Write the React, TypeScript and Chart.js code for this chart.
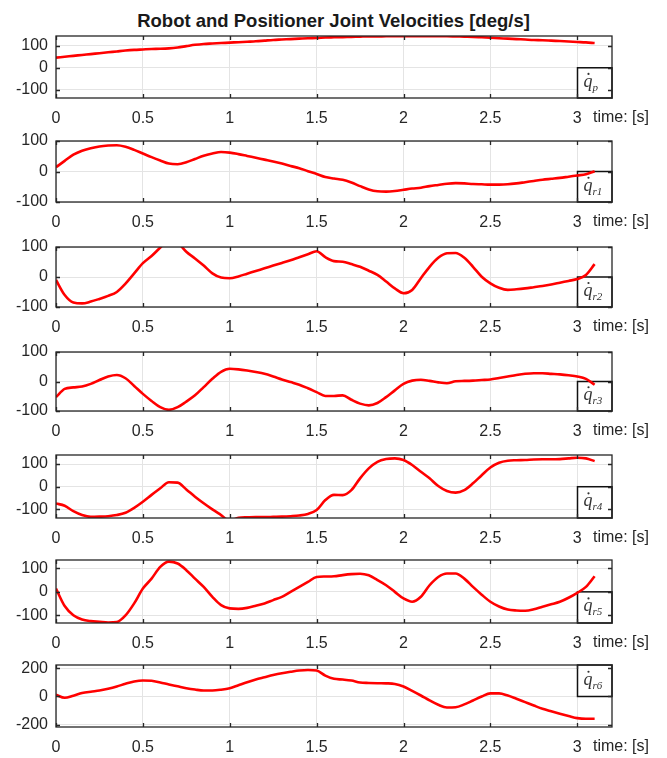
import React, { useEffect, useRef } from "react";
import { Chart, registerables } from "chart.js";

Chart.register(...registerables);

const TITLE = "Robot and Positioner Joint Velocities [deg/s]";
const X_LABEL = "time: [s]";

const timeS = [
  0, 0.05, 0.1, 0.15, 0.2, 0.25, 0.3, 0.35, 0.4, 0.45,
  0.5, 0.55, 0.6, 0.65, 0.7, 0.75, 0.8, 0.85, 0.9, 0.95,
  1.0, 1.05, 1.1, 1.15, 1.2, 1.25, 1.3, 1.35, 1.4, 1.45,
  1.5, 1.55, 1.6, 1.65, 1.7, 1.75, 1.8, 1.85, 1.9, 1.95,
  2.0, 2.05, 2.1, 2.15, 2.2, 2.25, 2.3, 2.35, 2.4, 2.45,
  2.5, 2.55, 2.6, 2.65, 2.7, 2.75, 2.8, 2.85, 2.9, 2.95,
  3.0, 3.05, 3.1,
];

const qP = [
  46, 50, 54, 58, 62, 66, 70, 74, 78, 81,
  83, 85, 86, 88, 92, 98, 104, 108, 110, 112,
  114, 116, 118, 120, 123, 126, 128, 130, 132, 134,
  135, 137, 138, 139, 140, 141, 142, 142, 143, 143,
  143, 143, 143, 143, 143, 143, 142, 141, 140, 138,
  136, 134, 132, 130, 128, 126, 125, 123, 121, 119,
  117, 115, 112,
];

const qR1 = [
  14, 35, 55, 68, 76, 82, 85, 86, 81, 71,
  59, 47, 36, 26, 24, 30, 41, 52, 59, 64,
  62, 57, 51, 45, 39, 33, 26, 18, 11, 1,
  -8, -18, -23, -27, -36, -48, -59, -65, -66, -64,
  -60, -56, -53, -48, -44, -40, -38, -39, -41, -42,
  -43, -43, -42, -39, -35, -31, -27, -24, -21, -17,
  -13, -9, 1,
];

const qR2 = [
  -10, -60, -85, -88, -82, -73, -63, -50, -22, 12,
  46, 70, 98, 125, 115, 84, 62, 38, 12, -2,
  -4, 2, 11, 20, 29, 38, 47, 56, 66, 76,
  86, 66, 53, 51, 43, 34, 21, 7, -15, -38,
  -54, -43, -4, 34, 64, 79, 80, 64, 34, 1,
  -21, -36, -43, -41, -38, -34, -30, -25, -19, -13,
  -7, 7, 43,
];

const qR3 = [
  -53, -25, -20, -17, -8, 5, 17, 22, 11, -15,
  -42, -66, -87, -96, -87, -68, -47, -19, 9, 33,
  43, 41, 37, 32, 26, 17, 7, -2, -11, -23,
  -36, -49, -49, -47, -62, -75, -81, -73, -53, -30,
  -8, 3, 6, 2, -3, -6, 1, 2, 3, 5,
  7, 12, 17, 22, 26, 28, 28, 26, 24, 21,
  17, 9, -11,
];

const qR4 = [
  -74, -84, -108, -125, -133, -132, -130, -125, -115, -93,
  -66, -36, -7, 20, 18, -12, -44, -73, -100, -125,
  -150, -137, -135, -134, -134, -133, -132, -130, -127, -120,
  -103, -59, -36, -37, -15, 37, 81, 110, 122, 125,
  118, 96, 66, 37, 3, -19, -26, -15, 15, 51,
  85, 106, 115, 117, 118, 120, 121, 121, 122, 125,
  128, 125, 113,
];

const qR5 = [
  14, -60, -99, -117, -124, -127, -130, -128, -100, -49,
  14, 56, 106, 128, 120, 92, 56, 21, -21, -56,
  -70, -72, -68, -59, -49, -35, -21, 0, 21, 42,
  63, 65, 66, 71, 75, 77, 70, 50, 28, 0,
  -28, -42, -21, 28, 63, 78, 78, 56, 21, -12,
  -42, -62, -75, -79, -80, -74, -63, -53, -42, -25,
  -4, 21, 66,
];

const qR6 = [
  12, -9, 6, 24, 34, 42, 55, 71, 90, 106,
  113, 111, 99, 85, 72, 59, 49, 42, 42, 48,
  59, 80, 101, 120, 136, 152, 165, 175, 184, 188,
  184, 148, 125, 120, 113, 99, 96, 94, 93, 89,
  71, 40, 7, -28, -59, -78, -76, -56, -28, 0,
  22, 22, 7, -16, -40, -64, -87, -105, -122, -138,
  -153, -158, -158,
];

const xTickValues = [0, 0.5, 1, 1.5, 2, 2.5, 3];
const yTicks100 = [-100, 0, 100];
const yTicks200 = [-200, 0, 200];
const subscripts = ["p", "r1", "r2", "r3", "r4", "r5", "r6"];
const series = [qP, qR1, qR2, qR3, qR4, qR5, qR6];

type PanelLayout = {
  top: number;
  bottom: number;
  yMin: number;
  yMax: number;
  yTicks: number[];
  legendAtTop: boolean;
};

const layouts: PanelLayout[] = [
  { top: 36, bottom: 98, yMin: -137, yMax: 144, yTicks: yTicks100, legendAtTop: false },
  { top: 141, bottom: 202, yMin: -100, yMax: 100, yTicks: yTicks100, legendAtTop: false },
  { top: 247, bottom: 307, yMin: -100, yMax: 100, yTicks: yTicks100, legendAtTop: false },
  { top: 352, bottom: 411, yMin: -100, yMax: 100, yTicks: yTicks100, legendAtTop: false },
  { top: 455, bottom: 518, yMin: -138, yMax: 140, yTicks: yTicks100, legendAtTop: false },
  { top: 560, bottom: 623, yMin: -132, yMax: 135, yTicks: yTicks100, legendAtTop: false },
  { top: 665, bottom: 727, yMin: -216, yMax: 223, yTicks: yTicks200, legendAtTop: true },
];

const W = 667;
const LEFT = 56;
const RIGHT = 612;
const X_MAX = 3.2;
const LEGEND_X = 3.0;
const PAD_TOP = 10;
const AXIS_H = 34;
const SANS = '"Liberation Sans", Arial, Helvetica, sans-serif';
const SERIF = '"Liberation Serif", "Times New Roman", serif';

function Panel({ idx }: { idx: number }) {
  const ref = useRef<HTMLCanvasElement>(null);
  const L = layouts[idx];
  const h = L.bottom - L.top + PAD_TOP + AXIS_H;

  useEffect(() => {
    const canvas = ref.current;
    if (!canvas) return;
    const values = series[idx];
    const decor = {
      id: "decor" + idx,
      beforeDatasetsDraw(chart: any) {
        const { ctx, chartArea, scales } = chart;
        const xs = scales.x;
        const ys = scales.y;
        const bx = Math.round(xs.getPixelForValue(LEGEND_X)) + 0.5;
        const zeroY = ys.getPixelForValue(0);
        const top = L.legendAtTop ? chartArea.top : zeroY;
        const bottom = L.legendAtTop ? zeroY : chartArea.bottom;
        const bh = bottom - top;
        const bw = chartArea.right - bx;
        ctx.save();
        ctx.fillStyle = "#ffffff";
        ctx.fillRect(bx, top, bw, bh);
        ctx.strokeStyle = "#111111";
        ctx.lineWidth = 1.5;
        ctx.strokeRect(bx, top, bw, bh);
        const base = top + bh / 2 + 4;
        ctx.fillStyle = "#333333";
        ctx.textBaseline = "alphabetic";
        ctx.textAlign = "left";
        ctx.font = "italic 18px " + SERIF;
        ctx.fillText("q", bx + 6, base);
        ctx.beginPath();
        ctx.arc(bx + 11, base - 13, 1.1, 0, Math.PI * 2);
        ctx.fill();
        ctx.font = "italic 11px " + SERIF;
        ctx.fillText(subscripts[idx], bx + 15, base + 4);
        ctx.restore();
      },
      afterDraw(chart: any) {
        const { ctx, chartArea, scales } = chart;
        const xs = scales.x;
        const ys = scales.y;
        ctx.save();
        ctx.strokeStyle = "#262626";
        ctx.lineWidth = 1.3;
        // inward tick marks
        const tl = 4;
        ctx.beginPath();
        xTickValues.forEach((v) => {
          const px = Math.round(xs.getPixelForValue(v)) + 0.5;
          ctx.moveTo(px, chartArea.bottom);
          ctx.lineTo(px, chartArea.bottom - tl);
          ctx.moveTo(px, chartArea.top);
          ctx.lineTo(px, chartArea.top + tl);
        });
        L.yTicks.forEach((v) => {
          const py = Math.round(ys.getPixelForValue(v)) + 0.5;
          ctx.moveTo(chartArea.left, py);
          ctx.lineTo(chartArea.left + tl, py);
          ctx.moveTo(chartArea.right, py);
          ctx.lineTo(chartArea.right - tl, py);
        });
        ctx.stroke();
        ctx.strokeRect(chartArea.left, chartArea.top, chartArea.right - chartArea.left, chartArea.bottom - chartArea.top);
        ctx.fillStyle = "#262626";
        ctx.font = "16px " + SANS;
        ctx.textAlign = "left";
        ctx.textBaseline = "middle";
        ctx.fillText(X_LABEL, chartArea.right - 19, chartArea.bottom + 20, 56);
        ctx.restore();
      },
    };

    const chart = new Chart(canvas, {
      type: "line",
      data: {
        datasets: [
          {
            data: timeS.map((t, i) => ({ x: t, y: values[i] })),
            borderColor: "#ff0000",
            borderWidth: 2.6,
            pointRadius: 0,
            cubicInterpolationMode: "monotone",
            fill: false,
            clip: 0,
          } as any,
        ],
      },
      options: {
        animation: false,
        responsive: false,
        events: [],
        layout: { padding: { top: PAD_TOP, right: W - RIGHT, bottom: 0, left: 0 } },
        plugins: { legend: { display: false }, tooltip: { enabled: false }, title: { display: false } },
        scales: {
          x: {
            type: "linear",
            min: 0,
            max: X_MAX,
            afterBuildTicks: (s: any) => {
              s.ticks = xTickValues.map((v) => ({ value: v }));
            },
            afterFit: (s: any) => {
              s.height = AXIS_H;
              s.paddingLeft = 0;
              s.paddingRight = 0;
              s.paddingTop = 0;
              s.paddingBottom = 0;
            },
            grid: { color: "#e4e4e4", drawTicks: false, lineWidth: 1 },
            border: { display: false },
            ticks: {
              font: { family: SANS, size: 16 },
              color: "#262626",
              padding: 11,
              maxRotation: 0,
              autoSkip: false,
              callback: (v: any) => String(v),
            },
          },
          y: {
            type: "linear",
            min: L.yMin,
            max: L.yMax,
            afterBuildTicks: (s: any) => {
              s.ticks = L.yTicks.map((v) => ({ value: v }));
            },
            afterFit: (s: any) => {
              s.width = LEFT;
              s.paddingLeft = 0;
              s.paddingRight = 0;
              s.paddingTop = 0;
              s.paddingBottom = 0;
            },
            grid: { color: "#e4e4e4", drawTicks: false, lineWidth: 1 },
            border: { display: false },
            ticks: {
              font: { family: SANS, size: 16 },
              color: "#262626",
              padding: 8,
              autoSkip: false,
              callback: (v: any) => String(v),
            },
          },
        },
      } as any,
      plugins: [decor],
    });
    return () => chart.destroy();
  }, [idx]);

  return (
    <canvas
      ref={ref}
      width={W}
      height={h}
      style={{ position: "absolute", left: 0, top: L.top - PAD_TOP, width: W, height: h }}
    />
  );
}

export default function App() {
  return (
    <div style={{ position: "absolute", left: 0, top: 0, width: W, height: 758, background: "#ffffff" }}>
      <div
        style={{
          position: "absolute",
          left: 0,
          top: 11,
          width: W,
          textAlign: "center",
          font: "bold 18.5px " + SANS,
          lineHeight: "20px",
          color: "#1a1a1a",
        }}
      >
        {TITLE}
      </div>
      {layouts.map((_, i) => (
        <Panel key={i} idx={i} />
      ))}
    </div>
  );
}
